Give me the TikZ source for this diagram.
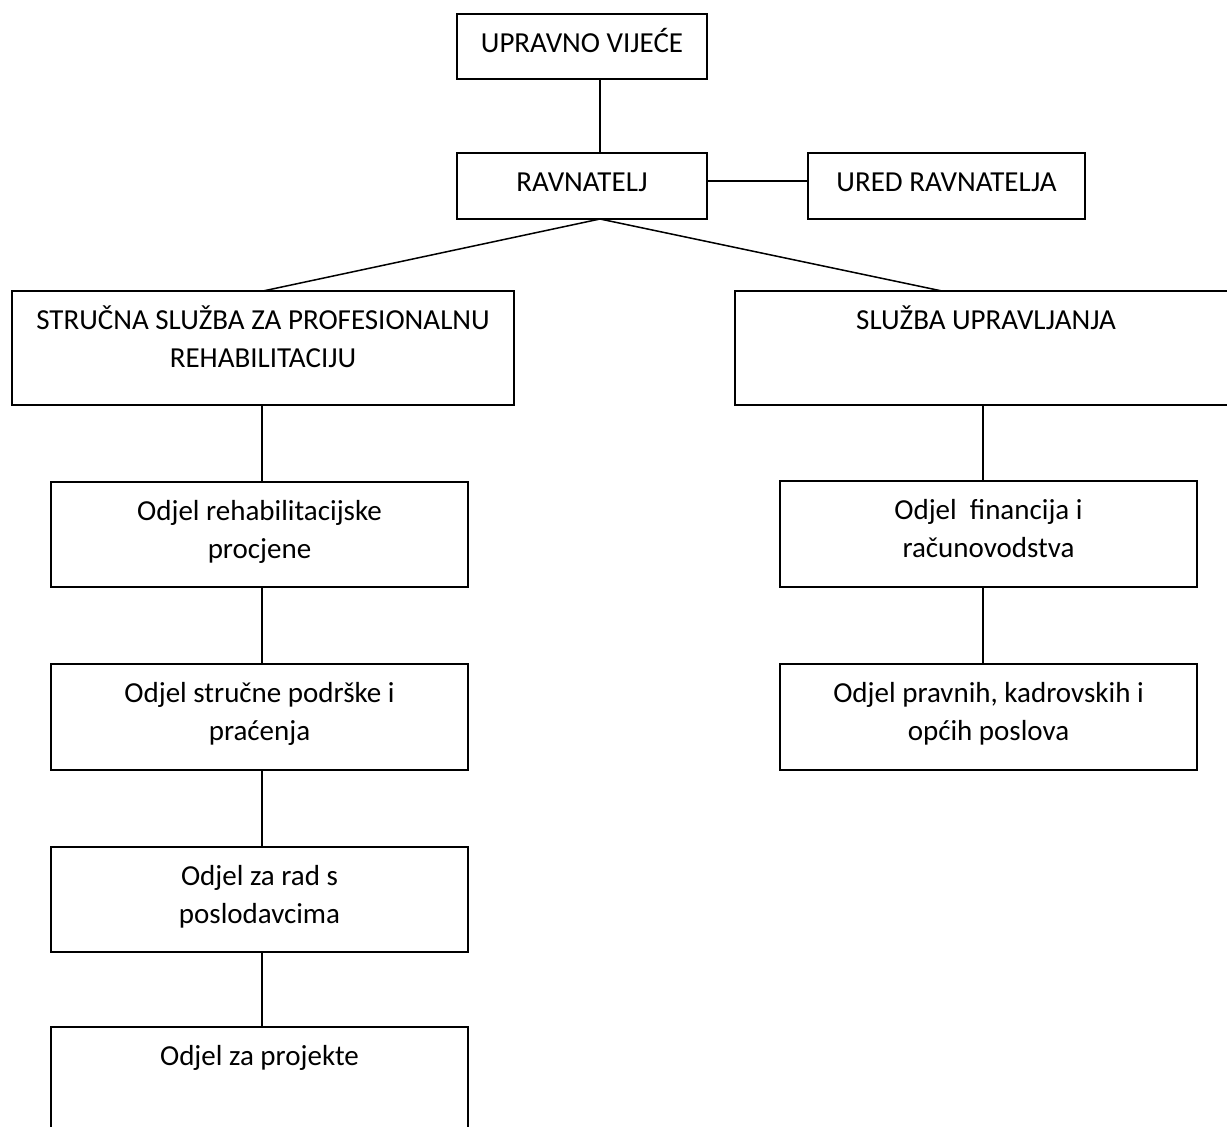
\documentclass[tikz,border=0pt]{standalone}
\usepackage{fontspec}
\setmainfont{Carlito}

% box text: width, height, lines (first baseline near the top)
\newcommand{\orgtext}[3]{\parbox[c][#2][t]{#1}{\centering\rule{0pt}{38.5pt}#3}}

\tikzset{
  orgbox/.style={draw, inner sep=0pt, outer sep=0pt, anchor=north west,
    font=\fontsize{29}{38}\selectfont},
}

\begin{document}
\begin{tikzpicture}[x=1pt, y=-1pt, line width=1.5pt]
  \useasboundingbox (0,0) rectangle (1227,1127);

  % top
  \node[orgbox] (vijece) at (457,14) {\orgtext{250pt}{65pt}{UPRAVNO VIJEĆE}};
  \node[orgbox] (ravnatelj) at (457,153) {\orgtext{250pt}{66pt}{RAVNATELJ}};
  \node[orgbox] (ured) at (808,153) {\orgtext{277pt}{66pt}{URED RAVNATELJA}};

  % sluzbe
  \node[orgbox] (strucna) at (12,291) {\orgtext{502pt}{114pt}{STRUČNA SLUŽBA ZA PROFESIONALNU\\REHABILITACIJU}};
  \node[orgbox] (upravljanje) at (735,291) {\orgtext{502pt}{114pt}{SLUŽBA UPRAVLJANJA}};

  % odjeli lijevo
  \node[orgbox] (procjena) at (51,482) {\orgtext{417pt}{105pt}{Odjel rehabilitacijske\\procjene}};
  \node[orgbox] (podrska) at (51,664) {\orgtext{417pt}{106pt}{Odjel stručne podrške i\\praćenja}};
  \node[orgbox] (poslodavci) at (51,847) {\orgtext{417pt}{105pt}{Odjel za rad s\\poslodavcima}};
  \node[orgbox] (projekti) at (51,1027) {\orgtext{417pt}{110pt}{Odjel za projekte}};

  % odjeli desno
  \node[orgbox] (financije) at (780,481) {\orgtext{417pt}{106pt}{Odjel~ financija i\\računovodstva}};
  \node[orgbox] (pravni) at (780,664) {\orgtext{417pt}{106pt}{Odjel pravnih, kadrovskih i\\općih poslova}};

  % osi vertikalnih veza
  \coordinate (osL) at (262,0);
  \coordinate (osD) at (983,0);

  % veze
  \draw ([xshift=18pt]vijece.south) -- ([xshift=18pt]ravnatelj.north);
  \draw ([yshift=5pt]ravnatelj.east) -- ([yshift=5pt]ured.west);
  \draw ([xshift=18pt]ravnatelj.south) -- (strucna.north);
  \draw ([xshift=18pt]ravnatelj.south) -- ([xshift=-44pt]upravljanje.north);
  \draw (strucna.south -| osL) -- (procjena.north -| osL);
  \draw (procjena.south -| osL) -- (podrska.north -| osL);
  \draw (podrska.south -| osL) -- (poslodavci.north -| osL);
  \draw (poslodavci.south -| osL) -- (projekti.north -| osL);
  \draw (upravljanje.south -| osD) -- (financije.north -| osD);
  \draw (financije.south -| osD) -- (pravni.north -| osD);
\end{tikzpicture}
\end{document}
